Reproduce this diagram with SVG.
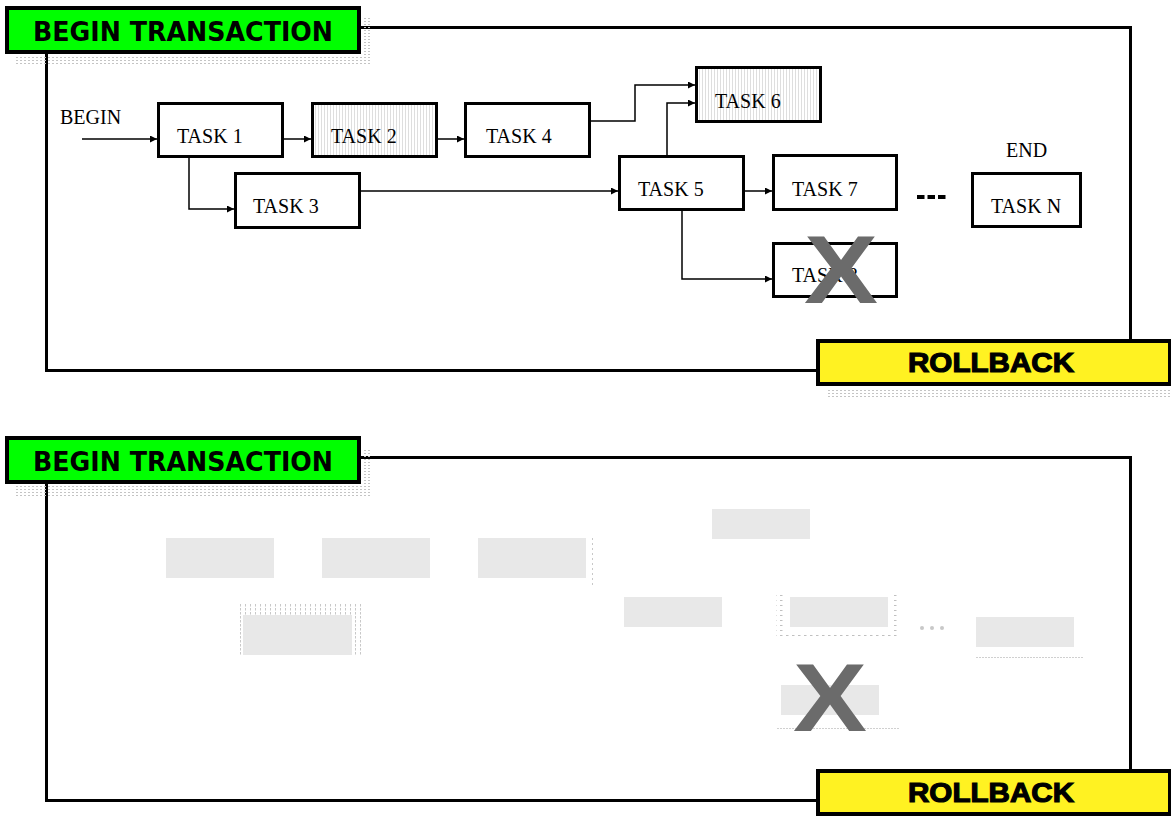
<svg xmlns="http://www.w3.org/2000/svg" width="1171" height="816" viewBox="0 0 1171 816">
<style>
.frame{fill:none;stroke:#000;stroke-width:3}
.green{fill:#00ff00;stroke:#000;stroke-width:4}
.yellow{fill:#fff222;stroke:#000;stroke-width:4}
.lbl{font-family:"DejaVu Sans",Verdana,sans-serif;font-weight:bold;font-size:26px;fill:#000}
.rb{font-family:"Liberation Sans",Arial,sans-serif;font-weight:900;font-size:28px;fill:#000;stroke:#000;stroke-width:1.2}
.task{fill:#fff;stroke:#000;stroke-width:3}
.hatch{fill:url(#vh);stroke:#000;stroke-width:3}
.t{font-family:"Liberation Serif","Times New Roman",serif;font-size:20px;fill:#000}
.conn{fill:none;stroke:#000;stroke-width:1.5}
.ghost{fill:#e8e8e8}
.xmark{font-family:"Liberation Sans",Arial,sans-serif;font-weight:bold;font-size:96px;fill:#6b6b6b}
.shadow{fill:url(#dots)}
</style>
<defs>
<pattern id="dots" patternUnits="userSpaceOnUse" width="4" height="3">
<rect x="0" y="0" width="2" height="1" fill="#c4c4c4"/>
</pattern>
<pattern id="vh" patternUnits="userSpaceOnUse" width="3" height="3">
<rect width="3" height="3" fill="#fff"/>
<rect x="0" y="0" width="1" height="3" fill="#dedede"/>
</pattern>
<pattern id="vdash" patternUnits="userSpaceOnUse" width="5" height="4">
<rect x="0" y="0" width="1" height="2.5" fill="#c8c8c8"/>
</pattern>
<pattern id="gdots" patternUnits="userSpaceOnUse" width="6" height="5">
<rect x="0" y="0" width="2.5" height="1" fill="#c0c0c0"/>
</pattern>
<marker id="arr" markerUnits="userSpaceOnUse" markerWidth="8" markerHeight="8" refX="7" refY="3.5" orient="auto">
<path d="M0,0 L7,3.5 L0,7 z" fill="#000"/>
</marker>
</defs>
<rect width="1171" height="816" fill="#fff"/>

<!-- TOP PANEL -->
<g id="top-frame">
<rect class="frame" x="46.5" y="27.5" width="1084" height="343"/>
</g>
<g id="top-begin-transaction">
<rect class="shadow" x="16" y="55" width="356" height="11"/>
<rect class="shadow" x="362" y="18" width="10" height="48"/>
<rect class="green" x="7" y="8" width="352" height="44"/>
<text class="lbl" x="183" y="41" text-anchor="middle" textLength="300" lengthAdjust="spacingAndGlyphs">BEGIN TRANSACTION</text>
</g>
<g id="top-rollback">
<rect class="shadow" x="826" y="388" width="345" height="11"/>
<rect class="yellow" x="818" y="341" width="352" height="43"/>
<text class="rb" x="991" y="372" text-anchor="middle" textLength="166" lengthAdjust="spacingAndGlyphs">ROLLBACK</text>
</g>

<g id="top-connectors">
<path class="conn" d="M82,139 H157" stroke-width="2" marker-end="url(#arr)"/>
<path class="conn" d="M283,139 H311" marker-end="url(#arr)"/>
<path class="conn" d="M189,157 V209 H234" marker-end="url(#arr)"/>
<path class="conn" d="M437,139 H464" marker-end="url(#arr)"/>
<path class="conn" d="M591,121 H635 V85 H695" marker-end="url(#arr)"/>
<path class="conn" d="M360,191 H618" marker-end="url(#arr)"/>
<path class="conn" d="M667,156 V103 H695" marker-end="url(#arr)"/>
<path class="conn" d="M744,191 H772" marker-end="url(#arr)"/>
<path class="conn" d="M682,210 V279 H772" marker-end="url(#arr)"/>
</g>

<g id="begin-label"><text class="t" x="60" y="124">BEGIN</text></g>
<g id="task1"><rect class="task" x="158.5" y="103.5" width="124" height="53"/><text class="t" x="177" y="143">TASK 1</text></g>
<g id="task2"><rect class="hatch" x="312.5" y="103.5" width="124" height="53"/><text class="t" x="331" y="143">TASK 2</text></g>
<g id="task3"><rect class="task" x="235.5" y="173.5" width="124" height="54"/><text class="t" x="253" y="213">TASK 3</text></g>
<g id="task4"><rect class="task" x="465.5" y="103.5" width="124" height="53"/><text class="t" x="486" y="143">TASK 4</text></g>
<g id="task6"><rect class="hatch" x="696.5" y="67.5" width="124" height="54"/><text class="t" x="715" y="108">TASK 6</text></g>
<g id="task5"><rect class="task" x="619.5" y="156.5" width="124" height="53"/><text class="t" x="638" y="196">TASK 5</text></g>
<g id="task7"><rect class="task" x="773.5" y="155.5" width="123" height="54"/><text class="t" x="792" y="196">TASK 7</text></g>
<g id="task8"><rect class="task" x="773.5" y="243.5" width="123" height="53"/><text class="t" x="792" y="282">TASK 8</text>
<text class="xmark" x="841" y="303" text-anchor="middle" textLength="74" lengthAdjust="spacingAndGlyphs">X</text></g>
<g id="ellipsis"><line x1="917" y1="197" x2="946" y2="197" stroke="#000" stroke-width="4" stroke-dasharray="7.5 3"/></g>
<g id="end-label"><text class="t" x="1006" y="157">END</text></g>
<g id="taskN"><rect class="task" x="972.5" y="173.5" width="108" height="53"/><text class="t" x="991" y="213">TASK N</text></g>

<!-- BOTTOM PANEL -->
<g id="bottom-frame">
<rect class="frame" x="46.5" y="457.5" width="1084" height="343"/>
</g>
<g id="bottom-begin-transaction">
<rect class="shadow" x="16" y="485" width="356" height="11"/>
<rect class="shadow" x="362" y="448" width="10" height="48"/>
<rect class="green" x="7" y="438" width="352" height="44"/>
<text class="lbl" x="183" y="471" text-anchor="middle" textLength="300" lengthAdjust="spacingAndGlyphs">BEGIN TRANSACTION</text>
</g>
<g id="bottom-rollback">
<rect class="yellow" x="818" y="771" width="352" height="43"/>
<text class="rb" x="991" y="802" text-anchor="middle" textLength="166" lengthAdjust="spacingAndGlyphs">ROLLBACK</text>
</g>

<g id="g-task1"><rect class="ghost" x="166" y="538" width="108" height="40"/></g>
<g id="g-task2"><rect class="ghost" x="322" y="538" width="108" height="40"/></g>
<g id="g-task4"><rect class="ghost" x="478" y="538" width="108" height="40"/>
<line x1="592.5" y1="538" x2="592.5" y2="586" stroke="#c8c8c8" stroke-width="1" stroke-dasharray="2 3"/></g>
<g id="g-task3"><rect fill="url(#vdash)" x="238" y="604" width="124" height="52"/><rect class="ghost" x="243" y="615" width="109" height="40"/></g>
<g id="g-task6"><rect class="ghost" x="712" y="509" width="98" height="30"/></g>
<g id="g-task5"><rect class="ghost" x="624" y="597" width="98" height="30"/></g>
<g id="g-task7"><rect fill="url(#gdots)" x="776" y="591" width="124" height="49"/><rect fill="#fff" x="786" y="595" width="106" height="38"/><rect class="ghost" x="790" y="597" width="98" height="30"/></g>
<g id="g-ellipsis"><circle cx="922" cy="628" r="2" fill="#c8c8c8"/><circle cx="932" cy="628" r="2" fill="#c8c8c8"/><circle cx="942" cy="628" r="2" fill="#c8c8c8"/></g>
<g id="g-taskN"><rect class="ghost" x="976" y="617" width="98" height="30"/><line x1="976" y1="657.5" x2="1083" y2="657.5" stroke="#d0d0d0" stroke-width="1" stroke-dasharray="2 1"/></g>
<g id="g-task8"><rect class="ghost" x="781" y="685" width="98" height="30"/><line x1="777" y1="728.5" x2="900" y2="728.5" stroke="#d0d0d0" stroke-width="1" stroke-dasharray="2 1"/>
<text class="xmark" x="830" y="731" text-anchor="middle" textLength="74" lengthAdjust="spacingAndGlyphs">X</text></g>
</svg>
